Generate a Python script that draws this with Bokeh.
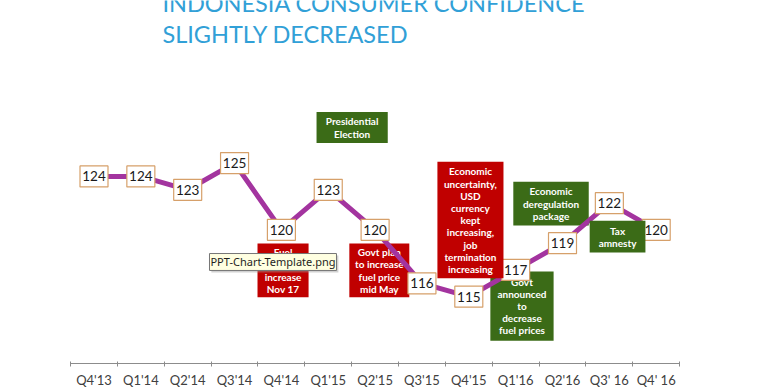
from bokeh.plotting import figure
from bokeh.models import Range1d, FixedTicker, ColumnDataSource
from bokeh.core.properties import value
from bokeh.embed import file_html
from bokeh.resources import INLINE

# ---- data ----
quarters = ["Q4'13", "Q1'14", "Q2'14", "Q3'14", "Q4'14", "Q1'15", "Q2'15",
            "Q3'15", "Q4'15", "Q1'16", "Q2'16", "Q3' 16", "Q4' 16"]
confidence = [124, 124, 123, 125, 120, 123, 120, 116, 115, 117, 119, 122, 120]
title_lines = ["INDONESIA CONSUMER CONFIDENCE", "SLIGHTLY DECREASED"]

# events: (lines, colour kind)
events = [
    (["Presidential", "Election"], "good"),
    (["Fuel", "price", "increase", "Nov 17"], "bad"),
    (["Govt plan", "to increase", "fuel price", "mid May"], "bad"),
    (["Economic", "uncertainty,", "USD", "currency", "kept", "increasing,",
      "job", "termination", "increasing"], "bad"),
    (["Govt", "announced", "to", "decrease", "fuel prices"], "good"),
    (["Economic", "deregulation", "package"], "good"),
    (["Tax", "amnesty"], "good"),
]
# layout of the event boxes (x0, x1 in quarter index, y_top, y_bottom in index units)
event_boxes = [
    (4.75, 6.27, 128.82, 126.51),
    (3.49, 4.58, 118.98, 114.95),
    (5.45, 6.73, 118.98, 114.95),
    (7.33, 8.74, 125.09, 116.37),
    (8.46, 9.81, 116.89, 111.70),
    (8.95, 10.56, 123.60, 120.32),
    (10.58, 11.77, 120.69, 118.30),
]
# drawing layer per event: 0 = below line, 1 = above value boxes
event_layer = [0, 0, 0, 1, 0, 0, 1]

GREEN = "#3b6b17"
RED = "#c00000"
PURPLE = "#a3349f"
TITLE_C = "#31a0d7"
FONT = "Lato"

idx = list(range(len(quarters)))

p = figure(width=780, height=390, output_backend="svg", toolbar_location=None,
           x_range=Range1d(-1.9957, 14.653), y_range=Range1d(109.996, 137.170),
           y_axis_location=None, min_border_left=0, min_border_right=0,
           min_border_top=0, min_border_bottom=0)
p.outline_line_color = None
p.xgrid.visible = False
p.ygrid.visible = False
p.background_fill_color = "white"
p.border_fill_color = "white"

ax = p.xaxis[0]
ax.ticker = FixedTicker(ticks=idx, minor_ticks=[i - 0.5 for i in range(len(quarters) + 1)])
ax.major_label_overrides = {i: q for i, q in enumerate(quarters)}
ax.bounds = (-0.5, len(quarters) - 0.5)
ax.axis_line_color = "#8c8c8c"
ax.axis_line_width = 1
ax.major_tick_line_color = None
ax.major_tick_out = 4
ax.major_tick_in = 0
ax.minor_tick_line_color = "#8c8c8c"
ax.minor_tick_in = 2
ax.minor_tick_out = 3
ax.major_label_standoff = 4
ax.major_label_text_font = FONT
ax.major_label_text_font_size = "13px"
ax.major_label_text_color = "#404040"

# title (top line is cut by the top edge, as in the screenshot)
p.text(x=[1.46, 1.46], y=[136.96, 134.65], text=title_lines,
       text_font=value(FONT), text_font_size="23.5px", text_color=TITLE_C,
       text_align="left", text_baseline="alphabetic")

LINE_H = 12.2


def draw_event(i):
    lines, kind = events[i]
    x0, x1, yt, yb = event_boxes[i]
    col = GREEN if kind == "good" else RED
    p.quad(left=[x0], right=[x1], top=[yt], bottom=[yb], fill_color=col,
           line_color=None)
    n = len(lines)
    cx = (x0 + x1) / 2
    cy = (yt + yb) / 2
    src = ColumnDataSource(dict(
        x=[cx] * n, y=[cy] * n, t=lines,
        off=[(k - (n - 1) / 2) * LINE_H for k in range(n)]))
    p.text(x="x", y="y", text="t", y_offset="off", source=src,
           text_font=value(FONT), text_font_style="bold", text_font_size="10px",
           text_color="white", text_align="center", text_baseline="middle")


for i in range(len(events)):
    if event_layer[i] == 0:
        draw_event(i)

# the series
p.line(idx, confidence, line_color=PURPLE, line_width=5, line_join="round")
p.rect(idx, confidence, width=28, height=21, width_units="screen",
       height_units="screen", fill_color="white", line_color="#d6a06a",
       line_width=1.2)
p.text(idx, confidence, text=[str(v) for v in confidence], text_font=value(FONT),
       text_font_size="13.5px", text_color="#1a1a1a", text_align="center",
       text_baseline="middle")

for i in range(len(events)):
    if event_layer[i] == 1:
        draw_event(i)

# file-name tooltip seen on the screenshot
p.quad(left=[2.465 + 0.04], right=[5.176 + 0.04], top=[118.229 - 0.15],
       bottom=[116.961 - 0.15], fill_color="#999999", fill_alpha=0.45, line_color=None)
p.quad(left=[2.465], right=[5.176], top=[118.229], bottom=[116.961],
       fill_color="#ffffe1", line_color="#767676", line_width=1)
p.text(x=[(2.465 + 5.176) / 2], y=[(118.229 + 116.961) / 2], text=["PPT-Chart-Template.png"],
       text_font=value("Noto Sans"), text_font_size="11px", text_color="#1e1e1e",
       text_align="center", text_baseline="middle")

open("out.html", "w").write(file_html(p, INLINE))
